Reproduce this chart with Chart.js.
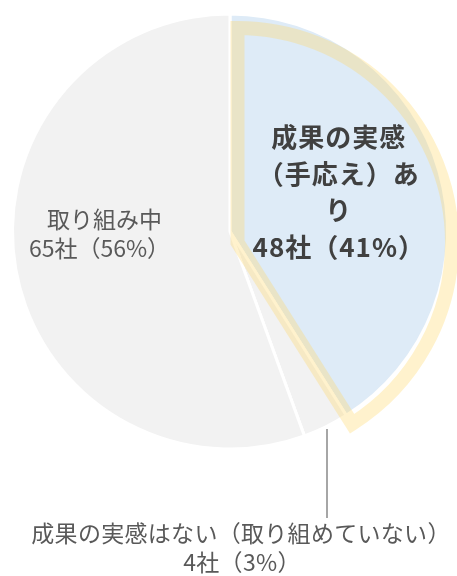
<!DOCTYPE html>
<html lang="ja">
<head>
<meta charset="UTF-8" />
<title>成果の実感</title>
<script src="https://cdn.jsdelivr.net/npm/chart.js@4.4.1/dist/chart.umd.min.js"></script>
<style>
  html, body { margin: 0; padding: 0; background: #ffffff; }
  canvas { display: block; }
</style>
</head>
<body>
<canvas id="pie" width="457" height="576"></canvas>
<script>
// data
const categories = ["成果の実感（手応え）あり", "成果の実感はない（取り組めていない）", "取り組み中"];
const counts = [48, 4, 65];
const sliceColors = ["#DEEBF7", "#F2F2F2", "#F2F2F2"];

const total = counts.reduce((a, b) => a + b, 0);
const pct = counts.map(v => Math.round(v / total * 100));

const FONT = '"Noto Sans CJK JP", "Noto Sans", sans-serif';

// yellow highlight frame around the first slice, slightly shifted
const highlight = {
  id: "highlight",
  afterDatasetsDraw(chart) {
    const arc = chart.getDatasetMeta(0).data[0];
    const ctx = chart.ctx;
    const cx = arc.x + 7.5, cy = arc.y + 11;
    ctx.save();
    ctx.beginPath();
    ctx.moveTo(cx, cy);
    ctx.arc(cx, cy, arc.outerRadius - 3, arc.startAngle, arc.endAngle);
    ctx.closePath();
    ctx.lineWidth = 14;
    ctx.lineJoin = "miter";
    ctx.strokeStyle = "rgba(255, 217, 102, 0.33)";
    ctx.stroke();
    ctx.restore();
  }
};

const labels = {
  id: "labels",
  afterDraw(chart) {
    const ctx = chart.ctx;
    const arc = chart.getDatasetMeta(0).data[0];
    const cx = arc.x, cy = arc.y, r = arc.outerRadius;
    ctx.save();
    ctx.textAlign = "center";
    ctx.textBaseline = "middle";

    // slice 1
    ctx.fillStyle = "#404040";
    ctx.font = "bold 26px " + FONT;
    ctx.letterSpacing = "1px";
    const l1 = ["成果の実感", "（手応え）あ", "り", counts[0] + "社（" + pct[0] + "%）"];
    l1.forEach((t, i) => ctx.fillText(t, cx + 0.5 * r, cy - 94 + i * 36.5));

    // slice 3
    ctx.fillStyle = "#595959";
    ctx.font = "23px " + FONT;
    ctx.letterSpacing = "0px";
    ctx.fillText(categories[2], cx - 0.6 * r + 5, cy - 12);
    ctx.fillText(counts[2] + "社（" + pct[2] + "%）", cx - 0.6 * r, cy + 17);

    // slice 2, with leader line
    ctx.strokeStyle = "#A6A6A6";
    ctx.lineWidth = 2;
    ctx.beginPath();
    ctx.moveTo(327, cy + r - 20);
    ctx.lineTo(327, 518);
    ctx.stroke();
    ctx.font = "23px " + FONT;
    ctx.letterSpacing = "0.3px";
    ctx.fillText(categories[1], 241, 533);
    ctx.fillText(counts[1] + "社（" + pct[1] + "%）", 242, 562);
    ctx.restore();
  }
};

new Chart(document.getElementById("pie"), {
  type: "pie",
  data: {
    labels: categories,
    datasets: [{
      data: counts,
      backgroundColor: sliceColors,
      borderColor: "#ffffff",
      borderWidth: 3,
      radius: 217.5
    }]
  },
  options: {
    responsive: false,
    animation: false,
    layout: { padding: { left: 3, right: 0, top: 0, bottom: 113 } },
    plugins: {
      legend: { display: false },
      tooltip: { enabled: false }
    }
  },
  plugins: [highlight, labels]
});
</script>
</body>
</html>
